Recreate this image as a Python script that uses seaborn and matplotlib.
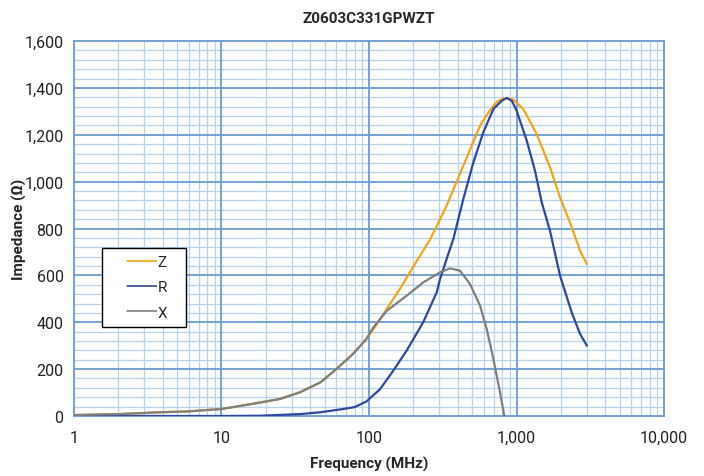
import numpy as np
import pandas as pd
import matplotlib
matplotlib.use("Agg")
import matplotlib.pyplot as plt
import seaborn as sns
from matplotlib.ticker import FuncFormatter, LogLocator, MultipleLocator

# Values (frequency in MHz, impedance in ohm)
z_freq = [1, 2, 4, 6, 10, 16, 25, 34, 47, 60, 78, 96, 110, 125, 162, 210, 259,
          290, 336, 436, 566, 661, 734, 800, 860, 950, 1112, 1371, 1687, 1972,
          2305, 2697, 3000]
z_vals = [4, 8, 16, 20, 30, 51, 73, 101, 144, 200, 265, 330, 380, 435, 542, 660,
          752, 815, 897, 1068, 1239, 1305, 1340, 1353, 1357, 1350, 1310, 1203,
          1061, 933, 826, 705, 648]

r_freq = [1, 10, 18, 34, 47, 67, 80, 96, 119, 146, 180, 233, 288, 303, 336,
          373, 436, 510, 595, 697, 794, 860, 930, 1003, 1173, 1334, 1482, 1687,
          1972, 2367, 2697, 3000]
r_vals = [0, 0, 1, 8, 16, 30, 38, 62, 115, 193, 279, 400, 528, 584, 670,
          755, 926, 1082, 1210, 1310, 1345, 1357, 1345, 1302, 1175, 1047, 912,
          790, 599, 442, 350, 300]

x_freq = [1, 2, 3.8, 5.8, 10, 16, 25, 34, 47, 60, 78, 96, 107, 132, 180, 233,
          303, 354, 414, 484, 566, 628, 697, 773, 827]
x_vals = [4, 8, 16, 19, 30, 51, 73, 101, 144, 200, 265, 328, 378, 449, 513, 570,
          613, 630, 620, 563, 471, 371, 243, 101, 0]

series_names = ["Z", "R", "X"]
series_colors = ["#F2A614", "#2E48A0", "#7F7F7F"]
title = "Z0603C331GPWZT"

df = pd.concat([
    pd.DataFrame({"freq": z_freq, "imp": z_vals, "series": "Z"}),
    pd.DataFrame({"freq": r_freq, "imp": r_vals, "series": "R"}),
    pd.DataFrame({"freq": x_freq, "imp": x_vals, "series": "X"}),
])

sns.set_style("white")
plt.rcParams["font.family"] = ["Roboto", "DejaVu Sans"]

fig = plt.figure(figsize=(7.04, 4.77), dpi=100)
ax = fig.add_axes([0.1051, 0.1258, 0.8381, 0.7861])

sns.lineplot(data=df, x="freq", y="imp", hue="series", hue_order=series_names,
             palette=series_colors, estimator=None, sort=False, linewidth=1.6,
             ax=ax, legend=False, zorder=3)

ax.set_xscale("log")
ax.set_xlim(1, 10000)
ax.set_ylim(0, 1600)

ax.xaxis.set_major_locator(LogLocator(base=10))
ax.xaxis.set_minor_locator(LogLocator(base=10, subs=np.arange(2, 10)))
ax.yaxis.set_major_locator(MultipleLocator(200))
ax.yaxis.set_minor_locator(MultipleLocator(40))

fmt = FuncFormatter(lambda v, p: f"{v:,.0f}")
ax.xaxis.set_major_formatter(fmt)
ax.yaxis.set_major_formatter(fmt)
ax.xaxis.set_minor_formatter(FuncFormatter(lambda v, p: ""))

# light minor grid first, darker major lines on top so they stay unbroken
ax.grid(True, which="minor", color="#B4D3F0", linewidth=0.9, zorder=0)
ax.grid(False, which="major")
ax.set_axisbelow(True)
for xv in ax.get_xticks():
    if 1 < xv < 10000:
        ax.axvline(xv, color="#6A9BD1", linewidth=1.3, zorder=1)
for yv in ax.get_yticks():
    if 0 < yv < 1600:
        ax.axhline(yv, color="#6A9BD1", linewidth=1.3, zorder=1)

for s in ax.spines.values():
    s.set_color("#6A9BD1")
    s.set_linewidth(1.3)

ax.tick_params(axis="both", which="major", labelsize=11.5, colors="#222222")
ax.tick_params(axis="y", which="major", length=4, color="#6A9BD1")
ax.tick_params(axis="x", which="major", length=0, pad=10)
ax.tick_params(which="minor", length=0)

ax.set_xlabel("Frequency (MHz)", fontsize=11, fontweight="bold", labelpad=8)
ax.set_ylabel("Impedance (Ω)", fontsize=11, fontweight="bold", labelpad=-2)
ax.set_title(title, fontsize=11, fontweight="bold", pad=14)

# legend handles start with a gap, like the boxed legend in the reference
handles = [plt.Line2D([], [], color=c, linewidth=1.2,
                      linestyle=(0, (0.01, 10.5, 19, 80)))
           for c in series_colors]
leg = ax.legend(handles, series_names, loc="upper left",
                bbox_to_anchor=(0.048, 0.448), borderaxespad=0,
                frameon=True, fancybox=False, edgecolor="black", framealpha=1,
                fontsize=11, handlelength=3.1, handletextpad=0.1,
                labelspacing=0.75, borderpad=0.45)
leg.get_frame().set_linewidth(1.0)
for t in leg.get_texts():
    t.set_text(t.get_text() + "   ")

fig.savefig("out.png", dpi=100)
